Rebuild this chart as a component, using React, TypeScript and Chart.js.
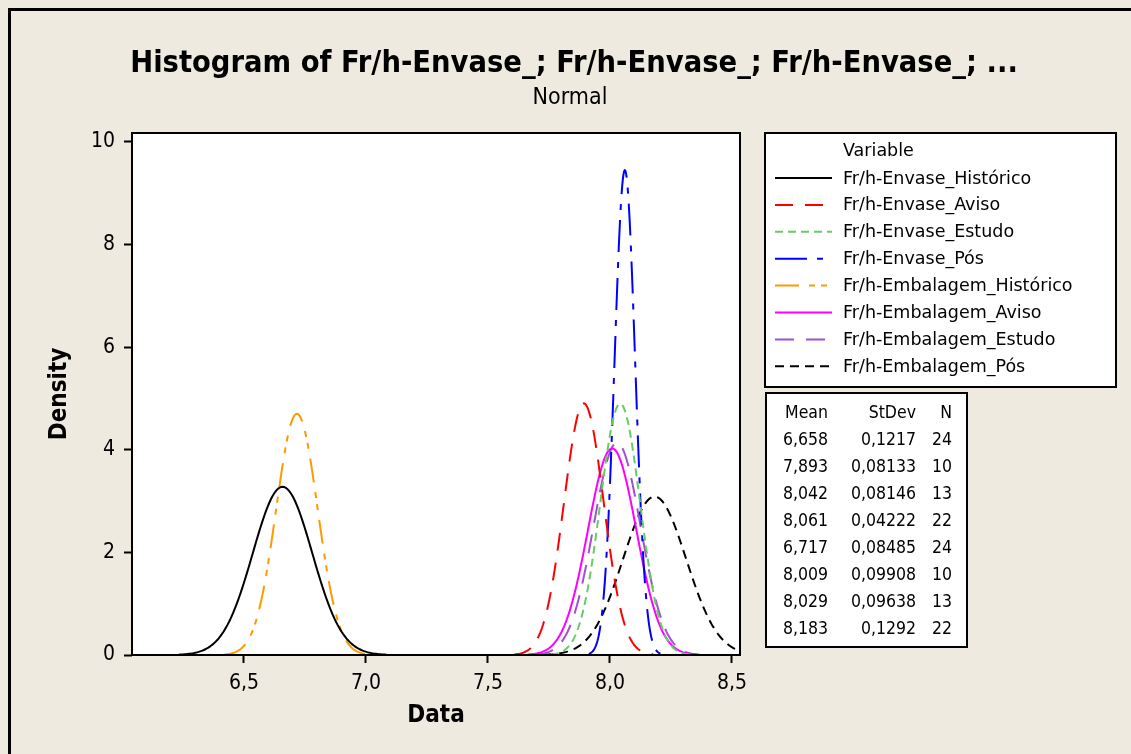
import React, { useEffect, useRef } from 'react';
import { Chart, registerables } from 'chart.js';

Chart.register(...registerables);

// ---- data ----
const SERIES_NAMES = [
  'Fr/h-Envase_Histórico',
  'Fr/h-Envase_Aviso',
  'Fr/h-Envase_Estudo',
  'Fr/h-Envase_Pós',
  'Fr/h-Embalagem_Histórico',
  'Fr/h-Embalagem_Aviso',
  'Fr/h-Embalagem_Estudo',
  'Fr/h-Embalagem_Pós',
];
const MEANS = [6.658, 7.893, 8.042, 8.061, 6.717, 8.009, 8.029, 8.183];
const STDEVS = [0.1217, 0.08133, 0.08146, 0.04222, 0.08485, 0.09908, 0.09638, 0.1292];
const COUNTS = [24, 10, 13, 22, 24, 10, 13, 22];
const MEAN_LABELS = ['6,658', '7,893', '8,042', '8,061', '6,717', '8,009', '8,029', '8,183'];
const STDEV_LABELS = ['0,1217', '0,08133', '0,08146', '0,04222', '0,08485', '0,09908', '0,09638', '0,1292'];
const X_TICKS = [6.5, 7.0, 7.5, 8.0, 8.5];
const Y_TICKS = [0, 2, 4, 6, 8, 10];

// ---- styles ----
const COLORS = ['#000000', '#ff0000', '#66cc66', '#0000ff', '#ff9900', '#ff00ff', '#a050d0', '#000000'];
const DASHES: number[][] = [[], [18, 12], [8, 5], [32, 10, 6, 10], [24, 10, 6, 6, 6, 10], [], [19, 12], [9, 6]];
const BG = '#eeeae0';
const FONT = '"DejaVu Sans Condensed", "DejaVu Sans", sans-serif';
const FONT_WIDE = '"DejaVu Sans", sans-serif';

// fitted normal density from each series' mean / stdev (as in the "Normal" fit)
function normalCurve(mean: number, sd: number) {
  const pts: { x: number; y: number }[] = [];
  for (let i = -70; i <= 70; i++) {
    const x = mean + (i * sd) / 20;
    const z = (x - mean) / sd;
    pts.push({ x, y: Math.exp(-0.5 * z * z) / (sd * Math.sqrt(2 * Math.PI)) });
  }
  return pts;
}

const decor = {
  id: 'decor',
  beforeDraw(chart: any) {
    const { ctx, chartArea: a } = chart;
    ctx.save();
    ctx.fillStyle = BG;
    ctx.fillRect(0, 0, chart.width, chart.height);
    ctx.fillStyle = '#000';
    ctx.fillRect(8, 8, chart.width - 8, 3);
    ctx.fillRect(8, 8, 3, chart.height - 8);
    ctx.fillStyle = '#fff';
    ctx.fillRect(a.left, a.top, a.right - a.left, a.bottom - a.top);
    ctx.restore();
  },
  afterDraw(chart: any) {
    const { ctx, chartArea: a } = chart;
    ctx.save();
    // plot frame
    ctx.strokeStyle = '#000';
    ctx.lineWidth = 2;
    ctx.strokeRect(a.left, a.top, a.right - a.left, a.bottom - a.top);

    // title
    ctx.fillStyle = '#000';
    ctx.textAlign = 'center';
    ctx.textBaseline = 'alphabetic';
    ctx.font = `bold 30.5px ${FONT}`;
    ctx.fillText('Histogram of Fr/h-Envase_; Fr/h-Envase_; Fr/h-Envase_; ...', 574, 72);
    ctx.font = `23px ${FONT}`;
    ctx.fillText('Normal', 570, 104);

    // legend box
    const lx = 765, ly = 133, lw = 351, lh = 254;
    ctx.fillStyle = '#fff';
    ctx.fillRect(lx, ly, lw, lh);
    ctx.strokeStyle = '#000';
    ctx.lineWidth = 2;
    ctx.strokeRect(lx, ly, lw, lh);
    ctx.fillStyle = '#000';
    ctx.font = `17.5px ${FONT_WIDE}`;
    ctx.textAlign = 'left';
    ctx.textBaseline = 'middle';
    ctx.fillText('Variable', 843, 151);
    SERIES_NAMES.forEach((name, i) => {
      const y = 178 + i * 26.9;
      ctx.beginPath();
      ctx.setLineDash(DASHES[i]);
      ctx.strokeStyle = COLORS[i];
      ctx.lineWidth = 2;
      ctx.moveTo(775, y);
      ctx.lineTo(832, y);
      ctx.stroke();
      ctx.setLineDash([]);
      ctx.fillStyle = '#000';
      ctx.fillText(name, 843, y + 1);
    });

    // stats box
    const sx = 766, sy = 393, sw = 201, sh = 254;
    ctx.fillStyle = '#fff';
    ctx.fillRect(sx, sy, sw, sh);
    ctx.strokeStyle = '#000';
    ctx.lineWidth = 2;
    ctx.strokeRect(sx, sy, sw, sh);
    ctx.fillStyle = '#000';
    ctx.font = `17.5px ${FONT}`;
    ctx.textAlign = 'right';
    ctx.fillText('Mean', 828, 413);
    ctx.fillText('StDev', 916, 413);
    ctx.fillText('N', 952, 413);
    MEAN_LABELS.forEach((m, i) => {
      const y = 440 + i * 27;
      ctx.fillText(m, 828, y);
      ctx.fillText(STDEV_LABELS[i], 916, y);
      ctx.fillText(String(COUNTS[i]), 952, y);
    });
    ctx.restore();
  },
};

export default function App() {
  const ref = useRef<HTMLCanvasElement | null>(null);
  useEffect(() => {
    if (!ref.current) return;
    const chart = new Chart(ref.current, {
      type: 'scatter',
      data: {
        datasets: MEANS.map((m, i) => ({
          label: SERIES_NAMES[i],
          data: normalCurve(m, STDEVS[i]),
          showLine: true,
          borderColor: COLORS[i],
          backgroundColor: COLORS[i],
          borderDash: DASHES[i],
          borderWidth: 2,
          pointRadius: 0,
          fill: false,
          tension: 0,
        })),
      },
      options: {
        responsive: false,
        animation: false,
        devicePixelRatio: 1,
        layout: { padding: { left: 0, top: 133, right: 391, bottom: 0 } },
        plugins: {
          legend: { display: false },
          title: { display: false },
          tooltip: { enabled: false },
        },
        scales: {
          x: {
            type: 'linear',
            min: 6.041,
            max: 8.533,
            afterBuildTicks: (s: any) => {
              s.ticks = X_TICKS.map((v) => ({ value: v }));
            },
            afterFit: (s: any) => {
              s.height = 99;
            },
            ticks: {
              callback: (v: any) => Number(v).toFixed(1).replace('.', ','),
              font: { family: FONT, size: 21 },
              color: '#000',
              padding: 8,
              maxRotation: 0,
              autoSkip: false,
            },
            grid: { drawOnChartArea: false, tickLength: 8, tickColor: '#000', tickWidth: 2 },
            border: { display: false },
            title: {
              display: true,
              text: 'Data',
              color: '#000',
              font: { family: FONT, size: 24, weight: 'bold' },
              padding: { top: 0, bottom: 24 },
            },
          },
          y: {
            type: 'linear',
            min: 0,
            max: 10.175,
            afterBuildTicks: (s: any) => {
              s.ticks = Y_TICKS.map((v) => ({ value: v }));
            },
            afterFit: (s: any) => {
              s.width = 132;
            },
            ticks: {
              callback: (v: any) => String(v),
              font: { family: FONT, size: 21 },
              color: '#000',
              padding: 9,
            },
            grid: { drawOnChartArea: false, tickLength: 8, tickColor: '#000', tickWidth: 2 },
            border: { display: false },
            title: {
              display: true,
              text: 'Density',
              color: '#000',
              font: { family: FONT, size: 24, weight: 'bold' },
              padding: { top: 45, bottom: 0 },
            },
          },
        },
      },
      plugins: [decor],
    });
    return () => chart.destroy();
  }, []);
  return (
    <div style={{ position: 'fixed', left: 0, top: 0, width: 1131, height: 754 }}>
      <canvas ref={ref} width={1131} height={754} style={{ display: 'block' }} />
    </div>
  );
}
